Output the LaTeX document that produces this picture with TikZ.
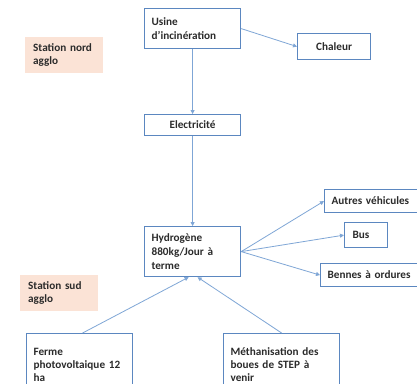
\documentclass[tikz,border=0pt]{standalone}
\usepackage{fontspec}
\setmainfont{Carlito}
\usetikzlibrary{arrows.meta}
\definecolor{boxc}{HTML}{5B87C0}
\definecolor{arrc}{HTML}{7FA6D6}
\definecolor{peach}{HTML}{FBE3D6}
\definecolor{txt}{HTML}{2B2B2B}
\begin{document}
\begin{tikzpicture}[x=1pt,y=-1pt,
  lbl/.style={font=\fontsize{11.2}{13.6}\selectfont\bfseries, text=txt},
  box/.style={lbl, draw=boxc, line width=1.2pt, fill=white, anchor=north west,
    align=left, inner xsep=7pt, inner ysep=0pt},
  station/.style={lbl, fill=peach, anchor=north west, align=left,
    inner xsep=8pt, inner ysep=0pt, text width=62pt, minimum height=36pt},
  arr/.style={draw=arrc, line width=0.8pt, -{Triangle[length=4pt,width=4pt]}}]
\useasboundingbox (0,0) rectangle (417,383);
\clip (0,0) rectangle (417,383);
\fill[white] (0,0) rectangle (417,383);

\node[station] (nord) at (25,37) {Station nord\\agglo};
\node[station] (sud) at (20,275) {Station sud\\agglo};

\node[box, text width=82pt, minimum height=40pt] (usine) at (144,8) {Usine\\d'incinération};
\node[box, text width=59pt, minimum height=26pt, align=center] (chaleur) at (297,33) {Chaleur};
\node[box, text width=82pt, minimum height=21pt, align=center] (elec) at (144,114) {Electricité};
\node[box, text width=82pt, minimum height=50pt] (hydro) at (144,226) {Hydrogène\\880kg/Jour à\\terme};
\node[box, text width=86pt, minimum height=23pt] (autres) at (324,189) {Autres véhicules};
\node[box, inner xsep=8pt, text width=27pt, minimum height=25pt] (bus) at (344,222) {Bus};
\node[box, text width=86pt, minimum height=23pt] (bennes) at (320,263) {Bennes à ordures};
\node[box, font=\fontsize{11.2}{13.2}\selectfont\bfseries, text width=92pt, minimum height=70pt, text depth=34pt, inner ysep=1pt] (ferme) at (26,333) {Ferme\\photovoltaique 12\\ha};
\node[box, font=\fontsize{11.2}{13.0}\selectfont\bfseries, text width=102pt, minimum height=70pt, text depth=34pt, inner ysep=0pt] (meth) at (223,333) {Méthanisation des\\boues de STEP à\\venir};

\draw[arr] (usine.east) -- (chaleur.west);
\draw[arr] (usine.south) -- (elec.north);
\draw[arr] (elec.south) -- (hydro.north);
\draw[arr] (hydro.east) -- (autres.west);
\draw[arr] (hydro.east) -- (bus.west);
\draw[arr] (hydro.east) -- (bennes.west);
\draw[arr] ([xshift=3pt]ferme.north) -- ([xshift=-4pt]hydro.south);
\draw[arr] (meth.north) -- ([xshift=5pt]hydro.south);
\end{tikzpicture}
\end{document}
